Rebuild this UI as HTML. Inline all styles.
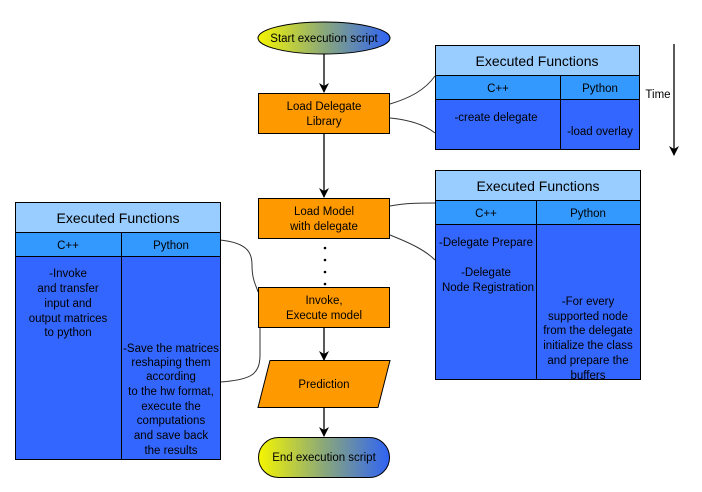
<!DOCTYPE html>
<html><head><meta charset="utf-8"><style>
html,body{margin:0;padding:0;background:#fff;}
svg{display:block;font-family:"Liberation Sans",sans-serif;}
</style></head><body>
<svg width="702" height="492" viewBox="0 0 702 492" xmlns="http://www.w3.org/2000/svg">
<defs>
<linearGradient id="g" x1="0" x2="1" y1="0" y2="0">
<stop offset="0" stop-color="#f5f500"/><stop offset="0.5" stop-color="#8aa87a"/><stop offset="1" stop-color="#2f63f5"/>
</linearGradient>
<marker id="ah" markerWidth="12" markerHeight="12" refX="9" refY="5" orient="auto" markerUnits="userSpaceOnUse">
<path d="M0,0 L3,5 L0,10 L10,5 Z" fill="#000"/>
</marker>
</defs>
<g stroke="#000" stroke-width="1.3" fill="none">
<line x1="324" y1="50" x2="324" y2="92" marker-end="url(#ah)"/>
<line x1="324" y1="133" x2="324" y2="197" marker-end="url(#ah)"/>
<line x1="324" y1="327" x2="324" y2="360" marker-end="url(#ah)"/>
<line x1="324" y1="407" x2="324" y2="436" marker-end="url(#ah)"/>
<line x1="674" y1="44" x2="674" y2="155" marker-end="url(#ah)"/>
</g>
<g fill="#000"><circle cx="325" cy="248" r="1.3"/><circle cx="325" cy="260" r="1.3"/><circle cx="325" cy="272" r="1.3"/><circle cx="325" cy="284" r="1.3"/></g>
<g stroke="#333" stroke-width="1" fill="none">
<path d="M390,104 C410,98 425,90 435,76"/>
<path d="M390,118 C410,120 425,125 435,133"/>
<path d="M390,206 C405,203 420,203 435,203"/>
<path d="M390,235 C410,243 425,250 435,260"/>
<path d="M220,240 C250,243 252,255 252,265 C252,280 256,285 258,292"/>
<path d="M220,382 C250,380 260,375 260,355 L260,327"/>
</g>
<ellipse cx="324" cy="38" rx="66" ry="16" fill="url(#g)" stroke="#000"/>
<text x="324" y="42" font-size="11.5" text-anchor="middle">Start execution script</text>
<g fill="#ff9900" stroke="#000" stroke-width="1">
<rect x="258.5" y="93.5" width="131" height="40"/>
<rect x="258.5" y="198.5" width="131" height="40"/>
<rect x="258.5" y="287.5" width="131" height="40"/>
<polygon points="270,360.5 390,360.5 378,407.5 258,407.5"/>
</g>
<rect x="258.5" y="437.5" width="131" height="40" rx="20" fill="url(#g)" stroke="#000"/>
<g font-size="11.5" text-anchor="middle">
<text x="324" y="110">Load Delegate</text><text x="324" y="125">Library</text>
<text x="324" y="215">Load  Model</text><text x="324" y="230">with delegate</text>
<text x="324" y="304">Invoke,</text><text x="324" y="319">Execute model</text>
<text x="324" y="388">Prediction</text>
<text x="324" y="461">End execution script</text>
<text x="658" y="98">Time</text>
</g>
<!-- Table 1 -->
<g stroke="#000" stroke-width="1">
<rect x="435.5" y="45.5" width="204" height="30" fill="#99ccff"/>
<rect x="435.5" y="75.5" width="204" height="24" fill="#3399ff"/>
<rect x="435.5" y="99.5" width="204" height="50" fill="#3366ff"/>
<line x1="560.5" y1="75.5" x2="560.5" y2="149.5"/>
</g>
<g font-size="11.5" text-anchor="middle">
<text x="537" y="66" font-size="14">Executed Functions</text>
<text x="498" y="92">C++</text><text x="600" y="92">Python</text>
<text x="496" y="121">-create delegate</text><text x="600" y="135">-load overlay</text>
</g>
<!-- Table 2 -->
<g stroke="#000" stroke-width="1">
<rect x="435.5" y="170.5" width="205" height="30" fill="#99ccff"/>
<rect x="435.5" y="200.5" width="205" height="24" fill="#3399ff"/>
<rect x="435.5" y="224.5" width="205" height="155" fill="#3366ff"/>
<line x1="536.5" y1="200.5" x2="536.5" y2="379.5"/>
</g>
<g font-size="11.5" text-anchor="middle">
<text x="538" y="191" font-size="14">Executed Functions</text>
<text x="486" y="217">C++</text><text x="588" y="217">Python</text>
<text x="486" y="246">-Delegate Prepare</text>
<text x="486" y="276">-Delegate</text><text x="488" y="291">Node Registration</text>
<text x="588" y="305">-For every</text><text x="588" y="320">supported node</text>
<text x="588" y="334">from the delegate</text><text x="588" y="349">initialize the class</text>
<text x="588" y="364">and prepare the</text><text x="588" y="379">buffers</text>
</g>
<!-- Table 3 -->
<g stroke="#000" stroke-width="1">
<rect x="15.5" y="202.5" width="205" height="30" fill="#99ccff"/>
<rect x="15.5" y="232.5" width="205" height="24" fill="#3399ff"/>
<rect x="15.5" y="256.5" width="205" height="203" fill="#3366ff"/>
<line x1="121.5" y1="232.5" x2="121.5" y2="459.5"/>
</g>
<g font-size="11.5" text-anchor="middle">
<text x="118" y="223" font-size="14">Executed Functions</text>
<text x="68" y="249">C++</text><text x="171" y="249">Python</text>
<text x="68" y="277">-Invoke</text><text x="68" y="292">and transfer</text>
<text x="68" y="307">input and</text><text x="68" y="322">output matrices</text>
<text x="68" y="336">to python</text>
<text x="171" y="352">-Save the matrices</text><text x="171" y="366">reshaping them</text>
<text x="171" y="380">according</text><text x="171" y="395">to the hw format,</text>
<text x="171" y="410">execute the</text><text x="171" y="424">computations</text>
<text x="171" y="439">and save back</text><text x="171" y="454">the results</text>
</g>
</svg>
</body></html>
